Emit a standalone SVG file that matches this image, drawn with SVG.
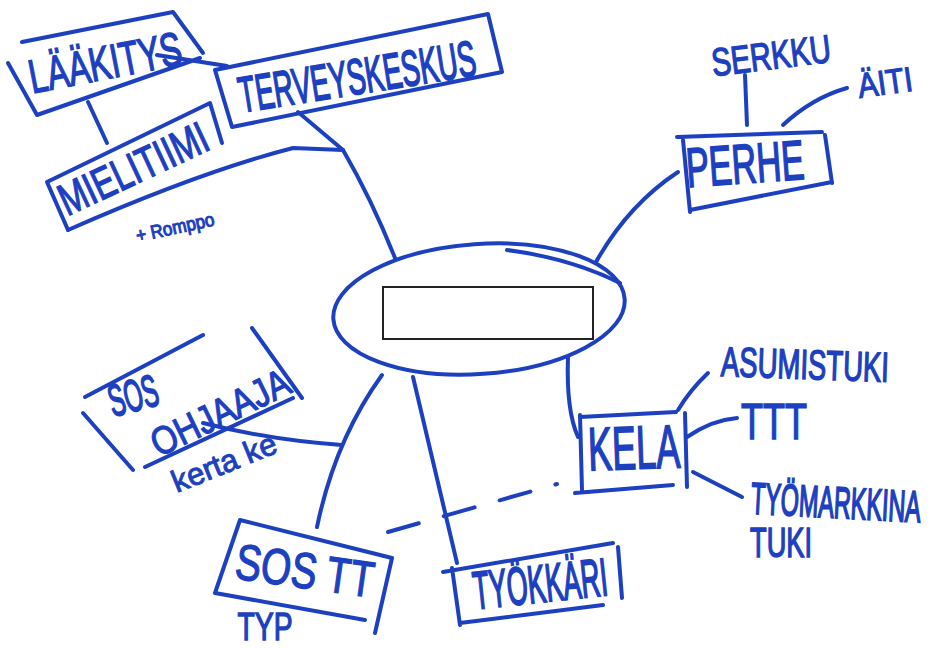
<svg xmlns="http://www.w3.org/2000/svg" width="952" height="648" viewBox="0 0 952 648">
<style>
.s{fill:none;stroke:#1c40bf;stroke-width:4;stroke-linecap:round;stroke-linejoin:round}
.t{fill:#1c40bf;stroke:#1c40bf;stroke-width:1;font-family:"Liberation Sans","DejaVu Sans",sans-serif;text-anchor:middle}
</style>
<rect x="0" y="0" width="952" height="648" fill="#ffffff"/>
<g id="connectors" class="s">
<path d="M88,102 L107,143"/>
<path d="M298,112 L343,150 Q372,200 395,258"/>
<path d="M68,230 Q200,172 293,148 L343,150"/>
<path d="M678,172 Q628,205 596,262"/>
<path d="M745,75 L747,125"/>
<path d="M783,125 Q812,98 847,88"/>
<path d="M568,357 Q566,410 578,437"/>
<path d="M678,410 Q690,390 708,373"/>
<path d="M687,437 Q712,420 737,418"/>
<path d="M693,472 L742,497"/>
<path d="M388,532 L557,484" stroke-dasharray="32 26"/>
<path d="M413,377 L457,563"/>
<path d="M382,375 Q335,440 317,527"/>
<path d="M203,423 Q270,440 342,445"/>
</g>
<g id="center">
<ellipse cx="479" cy="309" rx="146" ry="65" transform="rotate(-4 479 309)" class="s"/>
<path class="s" d="M507,250 Q570,258 620,283"/>
<rect x="383" y="287" width="210" height="52" fill="#ffffff" stroke="#222222" stroke-width="2"/>
</g>
<g id="laakitys">
<path class="s" d="M22,42 L173,12 L203,53 M8,63 L37,115 L200,58 M157,55 L227,66"/>
<text class="t" font-size="32.4" transform="translate(105,62) rotate(-11) scale(1,1.47)" y="11.6">LÄÄKITYS</text>
</g>
<g id="terveyskeskus">
<path class="s" d="M215,70 L488,14 L502,72 L232,127 Z"/>
<text class="t" font-size="27.5" transform="translate(357,76) rotate(-9) scale(1,1.83)" y="9.8">TERVEYSKESKUS</text>
</g>
<g id="mielitiimi">
<path class="s" d="M47,182 L210,103 L222,143 M47,182 L68,230"/>
<text class="t" font-size="32.7" transform="translate(133,168) rotate(-25) scale(1,1.37)" y="11.7">MIELITIIMI</text>
<text class="t" font-size="17.2" transform="translate(175,227) rotate(-12) scale(1,1.1)" y="6.2">+ Romppo</text>
</g>
<g id="perhe">
<path class="s" d="M677,137 L822,132 M683,140 L690,212 M690,210 L832,182 M825,135 L832,183"/>
<text class="t" font-size="34.3" transform="translate(745,163) rotate(-4) scale(1,1.63)" y="12.3">PERHE</text>
<text class="t" font-size="29.2" transform="translate(771,55) rotate(-7) scale(1,1.34)" y="10.5">SERKKU</text>
<text class="t" font-size="30" transform="translate(885,82) rotate(-8) scale(1,1.16)" y="10.7">ÄITI</text>
</g>
<g id="kela">
<path class="s" d="M580,417 L676,412 M580,415 L582,490 M575,493 L673,485 M685,413 L687,487"/>
<text class="t" font-size="36" transform="translate(634,447) rotate(-2) scale(1,1.7)" y="12.9">KELA</text>
<text class="t" font-size="27.5" transform="translate(805,364) rotate(2) scale(1,1.52)" y="9.8">ASUMISTUKI</text>
<text class="t" font-size="36" transform="translate(774,421) scale(1,1.4)" y="12.9">TTT</text>
<text class="t" font-size="23.4" transform="translate(836,502) rotate(3) scale(1,1.9)" y="8.4">TYÖMARKKINA</text>
<text class="t" font-size="27.2" transform="translate(781,542) scale(1,1.54)" y="9.7">TUKI</text>
</g>
<g id="tyokkari">
<path class="s" d="M443,572 L613,543 M452,568 L460,625 M460,623 L603,605 M618,547 L622,598"/>
<text class="t" font-size="26.7" transform="translate(540,583) rotate(-6) scale(1,2)" y="9.6">TYÖKKÄRI</text>
</g>
<g id="sostt">
<path class="s" d="M240,520 L392,558 M240,520 L215,593 L365,620 M392,558 L375,633"/>
<text class="t" font-size="38.8" transform="translate(305,570) rotate(8) scale(1,1.3)" y="13.9">SOS TT</text>
<text class="t" font-size="28.3" transform="translate(265,626) scale(1,1.38)" y="10.1">TYP</text>
</g>
<g id="sosohjaaja">
<path class="s" d="M85,397 L203,335 M83,413 L133,470 M252,328 L302,398 M145,467 L293,398"/>
<text class="t" font-size="23.7" transform="translate(133,395) rotate(-15) scale(1,1.9)" y="8.5">SOS</text>
<text class="t" font-size="33.3" transform="translate(220,412) rotate(-26) scale(1,1.18)" y="11.9">OHJAAJA</text>
<text class="t" font-size="31" transform="translate(225,465) rotate(-22)" y="8">kerta ke</text>
</g>
</svg>
